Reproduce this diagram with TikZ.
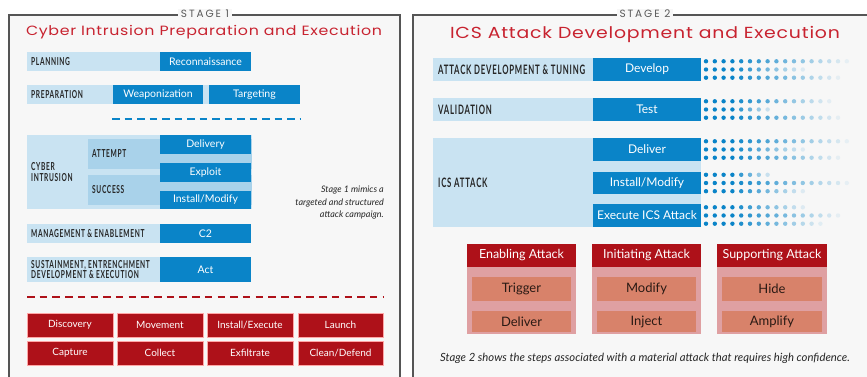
\documentclass[tikz,border=0pt]{standalone}
\usepackage{fontspec}
\setmainfont{Lato}
\newfontfamily\techfont[FakeStretch=1.18,LetterSpace=5]{Poppins}
\newfontfamily\stagefont[LetterSpace=18]{Poppins}
\newfontfamily\capfont[FakeStretch=0.6,LetterSpace=6]{Lato}
\definecolor{bgc}{HTML}{F7F7F7}
\definecolor{framec}{HTML}{555555}
\definecolor{dblue}{HTML}{0A84C8}
\definecolor{lblue}{HTML}{C9E3F2}
\definecolor{mblue}{HTML}{A9D2EA}
\definecolor{redc}{HTML}{AE1119}
\definecolor{tred}{HTML}{C82330}
\definecolor{pinkb}{HTML}{DFA0A2}
\definecolor{salmon}{HTML}{D8826A}
\definecolor{darktxt}{HTML}{2A1A14}
\newcommand\rbox[7]{\node[#1,minimum width={#5pt-#3pt},minimum height={#6pt-#4pt}] (#2) at ({(#3+#5)/2},{(#4+#6)/2}) {#7};}
\newcommand\dotrow[2]{%
  \pgfmathtruncatemacro\lastdot{#2-1}%
  \foreach \i in {0,...,\lastdot}{%
    \pgfmathsetmacro\pct{min(100,100*(#2-\i)/(#2-3))}%
    \fill[dblue!\pct!bgc] ({706+8.8*\i},#1) circle (2.2pt);}}
\tikzset{
  box/.style={inner sep=0pt, outer sep=0pt, draw=none, align=center},
  dbox/.style={box, fill=dblue, text=white, font=\fontsize{10.5}{12}\selectfont},
  dboxb/.style={box, fill=dblue, text=white, font=\fontsize{12}{14}\selectfont},
  lbar/.style={box, fill=lblue},
  mbar/.style={box, fill=mblue},
  rcell/.style={box, fill=redc, draw=red!35!white, line width=0.6pt, text=white, font=\fontsize{10}{11}\selectfont},
  lab/.style={anchor=west, inner sep=0pt, align=left, text=black!85, font=\capfont\bfseries\fontsize{11}{11}\selectfont},
  labb/.style={anchor=west, inner sep=0pt, align=left, text=black!85, font=\capfont\bfseries\fontsize{13}{14}\selectfont},
  hdr/.style={box, fill=redc, text=white, font=\fontsize{12.5}{13}\selectfont},
  bodyc/.style={box, fill=pinkb},
  inner/.style={box, fill=salmon, text=darktxt, font=\fontsize{13}{14}\selectfont},
  stagel/.style={fill=bgc, inner xsep=3pt, inner ysep=1pt, text=black!65, font=\stagefont\fontsize{10.5}{11}\selectfont},
  framebox/.style={draw=framec, line width=1.3pt, fill=bgc},
}
\begin{document}
\begin{tikzpicture}[x=1pt,y=-1pt]
\useasboundingbox (0,0) rectangle (867,377);
\fill[white] (0,0) rectangle (867,377);
% frames
\draw[framebox] (9,15) rectangle (400,390);
\draw[framebox] (413,15) rectangle (880,390);
\node[stagel] (st1) at (205,14) {STAGE 1};
\node[stagel] (st2) at (645,14) {STAGE 2};
\node[text=tred, font=\techfont\fontsize{13.4}{15}\selectfont] (t1) at (204,32) {Cyber Intrusion Preparation and Execution};
\node[text=tred, font=\techfont\fontsize{16}{18}\selectfont] (t2) at (645,34) {ICS Attack Development and Execution};
% ---- Stage 1
\rbox{lbar}{planbar}{27}{52}{251}{71}{}
\rbox{dbox}{recon}{160}{52}{251}{71}{Reconnaissance}
\node[lab] (planlab) at (31,61.5) {PLANNING};
\rbox{lbar}{prepbar}{27}{85}{300}{104}{}
\rbox{dbox}{weap}{113}{85}{203}{104}{Weaponization}
\rbox{dbox}{targ}{209}{85}{300}{104}{Targeting}
\node[lab] (preplab) at (31,94.5) {PREPARATION};
\coordinate (bl1) at (112,119);
\coordinate (bl2) at (301,119);
\draw[dblue, line width=2.2pt, dash pattern=on 7.5pt off 5pt] (bl1) -- (bl2);
\rbox{lbar}{cybbar}{27}{135}{252}{209}{}
\rbox{mbar}{attbar}{88}{139}{252}{169}{}
\rbox{mbar}{sucbar}{88}{175}{252}{205}{}
\rbox{dbox}{deliv}{160}{135}{251}{154}{Delivery}
\rbox{dbox}{expl}{160}{163}{251}{182}{Exploit}
\rbox{dbox}{inst}{160}{191}{251}{209}{Install/Modify}
\node[lab] (cyblab) at (31,172) {CYBER\\INTRUSION};
\node[lab] (attlab) at (92,154) {ATTEMPT};
\node[lab] (suclab) at (92,190) {SUCCESS};
\rbox{lbar}{mgmtbar}{27}{224}{251}{243}{}
\rbox{dbox}{ctwo}{160}{224}{251}{243}{C2}
\node[lab] (mgmtlab) at (31,233.5) {MANAGEMENT \& ENABLEMENT};
\rbox{lbar}{susbar}{27}{257}{251}{282}{}
\rbox{dbox}{act}{160}{257}{251}{282}{Act}
\node[lab, font=\capfont\bfseries\fontsize{11}{10.8}\selectfont] (suslab) at (31,269.5) {SUSTAINMENT, ENTRENCHMENT\\DEVELOPMENT \& EXECUTION};
\node[anchor=east, align=right, inner sep=0pt, text=black!85, font=\itshape\fontsize{9}{12.5}\selectfont] (note1) at (384,203) {Stage 1 mimics a\\targeted and structured\\attack campaign.};
\coordinate (rl1) at (27,297);
\coordinate (rl2) at (384,297);
\draw[redc, line width=2.4pt, dash pattern=on 7.5pt off 5.2pt] (rl1) -- (rl2);
\rbox{rcell}{disc}{27}{313}{113}{337}{Discovery}
\rbox{rcell}{move}{117}{313}{203}{337}{Movement}
\rbox{rcell}{inex}{207}{313}{293}{337}{Install/Execute}
\rbox{rcell}{laun}{298}{313}{383}{337}{Launch}
\rbox{rcell}{capt}{27}{341}{113}{365}{Capture}
\rbox{rcell}{coll}{117}{341}{203}{365}{Collect}
\rbox{rcell}{exfi}{207}{341}{293}{365}{Exfiltrate}
\rbox{rcell}{clea}{298}{341}{383}{365}{Clean/Defend}
% ---- Stage 2
\rbox{lbar}{devbar}{433}{58}{701}{81}{}
\rbox{dboxb}{devel}{593}{58}{701}{81}{Develop}
\node[labb] (devlab) at (438,69.5) {ATTACK DEVELOPMENT \& TUNING};
\rbox{lbar}{valbar}{433}{98}{701}{121}{}
\rbox{dboxb}{test}{593}{98}{701}{121}{Test}
\node[labb] (vallab) at (438,109.5) {VALIDATION};
\rbox{lbar}{icsbar}{433}{138}{701}{227}{}
\rbox{dboxb}{deliv2}{593}{138}{701}{161}{Deliver}
\rbox{dboxb}{inst2}{593}{172}{701}{194}{Install/Modify}
\rbox{dboxb}{exec}{593}{204}{701}{227}{Execute ICS Attack}
\node[labb] (icslab) at (438,183) {ICS ATTACK};
% dots
\dotrow{61.3}{17}\dotrow{69.5}{12}\dotrow{77.7}{16}
\dotrow{101.3}{15}\dotrow{109.5}{8}\dotrow{117.7}{16}
\dotrow{141.3}{17}\dotrow{149.5}{12}\dotrow{157.7}{16}
\dotrow{174.8}{8}\dotrow{183}{17}\dotrow{191.2}{12}
\dotrow{207.3}{12}\dotrow{215.5}{16}\dotrow{223.7}{14}
% attack boxes
\rbox{bodyc}{enb}{467}{267}{576}{334}{}
\rbox{hdr}{enh}{467}{244}{576}{267}{Enabling Attack}
\rbox{inner}{trig}{472}{277}{571}{301}{Trigger}
\rbox{inner}{delv}{472}{311}{571}{332}{Deliver}
\rbox{bodyc}{inb}{592}{267}{701}{334}{}
\rbox{hdr}{inh}{592}{244}{701}{267}{Initiating Attack}
\rbox{inner}{modi}{597}{277}{696}{301}{Modify}
\rbox{inner}{inje}{597}{311}{696}{332}{Inject}
\rbox{bodyc}{sub}{717}{267}{827}{334}{}
\rbox{hdr}{suh}{717}{244}{827}{267}{Supporting Attack}
\rbox{inner}{hide}{722}{277}{822}{301}{Hide}
\rbox{inner}{ampl}{722}{311}{822}{332}{Amplify}
\node[inner sep=0pt, text=black!85, font=\itshape\fontsize{11.3}{12}\selectfont] (cap2) at (645,358) {Stage 2 shows the steps associated with a material attack that requires high confidence.};
\end{tikzpicture}
\end{document}
